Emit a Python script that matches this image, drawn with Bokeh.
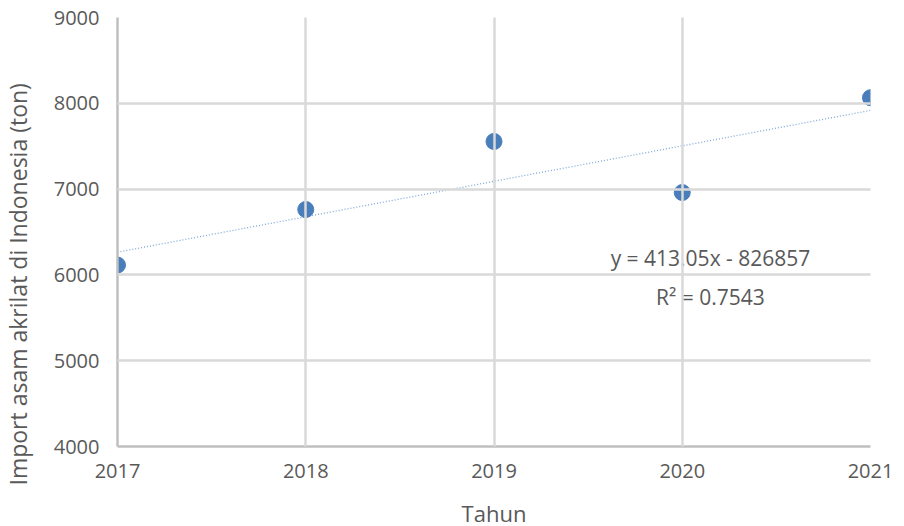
from bokeh.plotting import figure
from bokeh.models import FixedTicker, Range1d, Label, Title
from bokeh.embed import file_html
from bokeh.resources import INLINE

years = [2017, 2018, 2019, 2020, 2021]
imports = [6115, 6762, 7555, 6960, 8065]
y_ticks = [4000, 5000, 6000, 7000, 8000, 9000]
trend_slope = 413.05
trend_intercept = -826857
eq_text = "y = 413.05x - 826857"
r2_text = "R² = 0.7543"
x_title = "Tahun"
y_title = "Import asam akrilat di Indonesia (ton)"

FONT = "Open Sans"
TXT = "#595959"

p = figure(width=923, height=526, output_backend="svg", toolbar_location=None,
           x_range=Range1d(2017, 2021), y_range=Range1d(4000, 9000),
           frame_width=753, frame_height=429,
           min_border_left=140, min_border_right=30, min_border_top=17, min_border_bottom=80)
p.margin = (0, 0, 0, -23)
p.outline_line_color = None
p.background_fill_color = "white"

# trend line
tx = [years[0], years[-1]]
ty = [trend_slope * x + trend_intercept for x in tx]
p.line(tx, ty, line_color="#7fa6d6", line_width=1.3, line_dash="1 2")

p.scatter(years, imports, size=16, marker="circle", fill_color="#4a7ebb", line_color="#4a7ebb")

for ax in (p.xaxis, p.yaxis):
    ax.major_tick_line_color = None
    ax.minor_tick_line_color = None
    ax.axis_line_color = "#bfbfbf"
    ax.axis_line_width = 2.5
    ax.major_label_text_font = FONT
    ax.major_label_text_font_size = "20px"
    ax.major_label_text_color = TXT
    ax.axis_label_text_font = FONT
    ax.axis_label_text_font_size = "22px"
    ax.axis_label_text_color = TXT
    ax.axis_label_text_font_style = "normal"

p.xaxis.ticker = FixedTicker(ticks=years)
p.yaxis.ticker = FixedTicker(ticks=y_ticks)
p.xaxis.axis_label = x_title
p.xaxis.major_label_standoff = 11
p.xaxis.axis_label_standoff = 17
p.yaxis.major_label_standoff = 12

# y-axis title, starting a little below the frame bottom as in the reference
p.add_layout(Title(text=y_title, align="left", offset=-39, standoff=34,
                   vertical_align="bottom",
                   text_font=FONT, text_font_size="23px", text_color=TXT,
                   text_font_style="normal"), "left")

p.xgrid.ticker = FixedTicker(ticks=years)
p.ygrid.ticker = FixedTicker(ticks=y_ticks)
for g in (p.xgrid, p.ygrid):
    g.grid_line_color = "#d9d9d9"
    g.grid_line_width = 2.5
    g.level = "overlay"

p.add_layout(Label(x=2020.15, y=7000 - 1000 * (258 - 189) / 85.8, text=eq_text,
                   text_font=FONT, text_font_size="21px", text_color=TXT,
                   text_align="center", text_baseline="middle", level="glyph"))
p.add_layout(Label(x=2020.15, y=6000 - 1000 * (297 - 275) / 85.8, text=r2_text,
                   text_font=FONT, text_font_size="21px", text_color=TXT,
                   text_align="center", text_baseline="middle", level="glyph"))

open("out.html", "w").write(file_html(p, INLINE))
